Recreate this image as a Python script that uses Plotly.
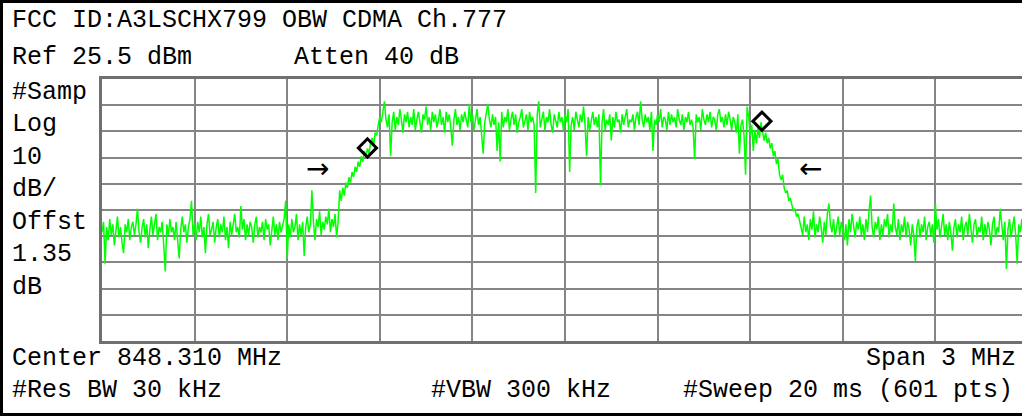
import numpy as np
import plotly.graph_objects as go

# ---- data ----
center_mhz = 848.310
span_mhz = 3.0
ref_dbm = 25.5
db_per_div = 10
n_pts = 601

trace_dbm = [
    # lower noise floor
    -33, -29, -45, -31, -36, -28, -34, -30, -38, -32, -27, -35, -31, -37, -41, -30, -33, -28, -36, -31,
    -29, -34, -30, -24, -33, -37, -31, -28, -35, -30, -39, -32, -27, -34, -30, -26, -36, -31, -33, -29,
    -38, -48, -30, -34, -28, -33, -31, -36, -29, -35, -43, -32, -27, -33, -30, -37, -31, -28, -21, -34,
    -30, -36, -29, -33, -27, -35, -31, -41, -30, -26, -34, -32, -29, -37, -31, -28, -35, -30, -33, -27,
    -36, -31, -39, -29, -34, -30, -26, -33, -31, -35, -23, -32, -28, -36, -30, -34, -29, -31, -37, -30,
    -27, -35, -31, -33, -29, -36, -28, -32, -30, -38, -31, -27, -34, -30, -36, -29, -33, -31, -28, -21,
    -43, -30, -35, -28, -33, -31, -26, -36, -30, -34, -29, -42, -31, -27, -33, -30, -17, -29, -36, -28,
    -31, -25, -34, -29, -32, -27, -30, -24, -33, -28, -31, -26, -35, -29,
    # rising edge
    -17, -21, -16, -19, -14, -16, -12, -14, -10, -12, -8, -10, -6, -8, -4, -6, -2, -4, -1, -3,
    1, 3, 0, 5, 4, 8, 11, 9,
    # in-band
    14, 17, 10, 7, 12, -4, 9, 13, 6, 11, 8, 14, 10, 5, 12, 9, 13, 7,
    11, 8, 14, 6, 10, 13, 9, 5, 12, 10, 15, 8, 11, 6, 13, 9, 12, 7, 10, 14,
    8, 11, 5, 13, 9, 12, 7, 0, 10, 14, 8, 11, 6, 12, 9, 13, 10, 7, 16, 9,
    12, 6, 10, 14, 8, 11, 4, -3, 9, 13, 16, 10, 7, 12, 8, 11, -2, 9, -6, 13,
    7, 11, 9, 14, 6, 10, 13, 8, 12, 5, 9, 11, 14, 7, 10, 12, 6, 13, 9, 11,
    8, -18, 12, 17, 7, 10, 13, 6, 11, 9, 14, 8, 5, 12, 10, 7, 13, 9, 11, 6,
    12, 9, 14, -10, 8, 11, 6, 13, 10, 7, 12, 9, 15, 8, -4, 11, 6, 10, 13, 8,
    11, 7, 12, -15, 9, 14, 6, 10, 8, 12, 2, 11, 7, 13, 9, 10, 5, 12, 8, 11,
    14, 7, 10, 9, 12, 6, 11, 13, 8, 17, 10, 7, 12, 9, 11, 6, 13, -2, 10, 8,
    12, 9, 14, 7, 11, 10, 6, 13, 8, 12, 9, 11, 7, 14, 10, 8, 12, 6, 11, 9,
    13, 8, 10, 7, -5, 12, 9, 11, 6, 14, 10, 8, 12, 9, 13, 7, 11, 10, 6, 12,
    14, 9, 11, 7, 12, 8, 13, 10, 6, 11, 9, 5, 12, -3, 8, 10, 4, -11, 15, 11,
    # falling edge
    4, 8, -2, 6, 1, 7, 3, 9, 6, 2, 5, 1, 3, -1, 1, -4, -2, -7, -5, -11,
    -13, -11, -16, -18, -17, -21, -20, -23, -25, -24, -27, -26, -29,
    # upper noise floor
    -31, -34, -27, -33, -30, -36, -28, -32, -25, -35, -30, -33, -27, -31, -37, -29, -34, -26, -22, -30,
    -33, -28, -35, -31, -27, -34, -29, -32, -36, -30, -38, -28, -33, -26, -31, -35, -29, -32, -27, -34,
    -30, -36, -28, -33, -25, -19, -31, -35, -29, -32, -27, -36, -30, -34, -28, -31, -26, -35, -30, -33,
    -22, -31, -34, -28, -36, -30, -33, -27, -35, -29, -32, -38, -30, -34, -44, -31, -28, -35, -30, -33,
    -27, -36, -31, -29, -34, -30, -37, -22, -32, -28, -35, -31, -26, -34, -30, -36, -29, -33, -40, -31,
    -28, -35, -30, -33, -27, -36, -31, -29, -34, -26, -32, -37, -30, -28, -35, -31, -33, -27, -36, -30,
    -34, -29, -32, -38, -30, -27, -35, -31, -33, -24, -30, -36, -29, -47, -32, -28, -35, -31, -27, -34,
    -45, -30, -33, -28, -36, -31, -26, -34,
]

marker_mhz = [847.670, 848.948]
marker_dbm = [-0.8, 9.4]
arrow_mhz = [847.507, 849.104]
arrow_dbm = [-8.5, -8.5]
arrow_text = ["\u2192", "\u2190"]

title_text = "FCC ID:A3LSCHX799 OBW CDMA Ch.777"
ref_text = "Ref 25.5 dBm"
atten_text = "Atten 40 dB"
side_labels = ["#Samp", "Log", "10", "dB/", "Offst", "1.35", "dB"]
center_text = "Center 848.310 MHz"
span_text = "Span 3 MHz"
rbw_text = "#Res BW 30 kHz"
vbw_text = "#VBW 300 kHz"
sweep_text = "#Sweep 20 ms (601 pts)"

# ---- geometry ----
W, H = 1022, 416
L, R, T, B = 102, 0, 79, 75
PW = W - L - R
PH = H - T - B
start = center_mhz - span_mhz / 2
freqs = np.linspace(start, start + span_mhz, n_pts)
px_per_div = 92.6
visible_span = PW / (px_per_div * 10) * span_mhz


def xp(px):
    return (px - L) / PW


def yp(py):
    return (H - B - py) / PH


fig = go.Figure()
fig.add_trace(go.Scatter(x=freqs, y=trace_dbm, mode="lines",
                         line=dict(color="#00ff00", width=1.5),
                         hoverinfo="skip", showlegend=False))
fig.add_trace(go.Scatter(x=marker_mhz, y=marker_dbm, mode="markers",
                         marker=dict(symbol="diamond-open", size=14,
                                     color="black", line=dict(width=3, color="black")),
                         showlegend=False))

mono = "Liberation Mono"
fsz = 25
ann = []
for f, d, t in zip(arrow_mhz, arrow_dbm, arrow_text):
    ann.append(dict(x=f, y=d, xref="x", yref="y", text=t, showarrow=False,
                    font=dict(family="DejaVu Sans", size=28, color="black")))


def txt(t, px, py, anchor="left"):
    ann.append(dict(x=xp(px), y=yp(py), xref="paper", yref="paper", text=t,
                    showarrow=False, xanchor=anchor, yanchor="middle",
                    font=dict(family=mono, size=fsz, color="black")))


txt(title_text, 10, 21)
txt(ref_text, 10, 58)
txt(atten_text, 292, 58)
for i, s in enumerate(side_labels):
    txt(s, 10, 92 + i * 32.5)
txt(center_text, 10, 358)
txt(span_text, 1018, 358, "right")
txt(rbw_text, 10, 390)
txt(vbw_text, 429, 390)
txt(sweep_text, 1015, 390, "right")

shapes = [
    dict(type="rect", xref="paper", yref="paper", x0=xp(0), x1=xp(W), y0=yp(0), y1=yp(3),
         fillcolor="black", line=dict(width=0)),
    dict(type="rect", xref="paper", yref="paper", x0=xp(0), x1=xp(3), y0=yp(0), y1=yp(H),
         fillcolor="black", line=dict(width=0)),
    dict(type="rect", xref="paper", yref="paper", x0=xp(0), x1=xp(W), y0=yp(413), y1=yp(H),
         fillcolor="black", line=dict(width=0)),
]

fig.update_layout(
    width=W, height=H, margin=dict(l=L, r=R, t=T, b=B),
    paper_bgcolor="white", plot_bgcolor="white",
    annotations=ann, shapes=shapes, showlegend=False,
    xaxis=dict(range=[start, start + visible_span], tick0=start, dtick=span_mhz / 10,
               showticklabels=False, ticks="", showgrid=True, gridcolor="#858585",
               gridwidth=2, zeroline=False, showline=True, linecolor="#707070",
               linewidth=3, mirror=True, fixedrange=True),
    yaxis=dict(range=[ref_dbm - 10 * db_per_div, ref_dbm], tick0=ref_dbm, dtick=db_per_div,
               showticklabels=False, ticks="", showgrid=True, gridcolor="#858585",
               gridwidth=2, zeroline=False, showline=True, linecolor="#707070",
               linewidth=3, mirror=False, fixedrange=True),
)

fig.write_html("out.html", config={"displayModeBar": False},
               post_script="document.body.style.margin='0';document.body.style.overflow='hidden';")
